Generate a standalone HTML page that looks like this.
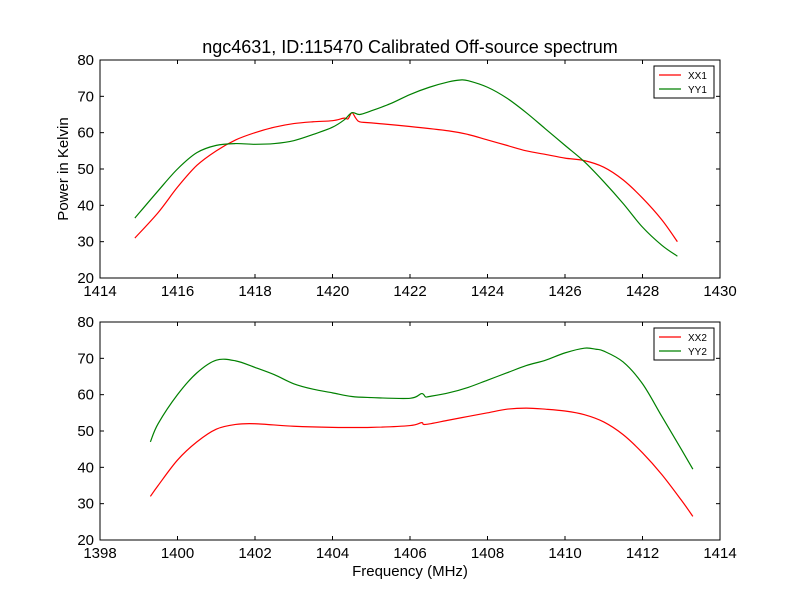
<!DOCTYPE html>
<html><head><meta charset="utf-8"><style>
body{margin:0;background:#fff;}
svg{display:block;font-family:"Liberation Sans","DejaVu Sans",sans-serif;}
</style></head><body>
<svg id="c" width="800" height="600" viewBox="0 0 800 600">
<rect width="800" height="600" fill="#fff"/>
<text x="410" y="53" font-size="18" text-anchor="middle">ngc4631, ID:115470 Calibrated Off-source spectrum</text>
<text transform="translate(68,169) rotate(-90)" font-size="15" text-anchor="middle">Power in Kelvin</text>
<text x="410" y="576" font-size="15" text-anchor="middle">Frequency (MHz)</text>
</svg>
<script>
const topFreqXX=[1414.9,1415.5,1416,1416.5,1417,1417.5,1418,1418.5,1419,1419.5,1420,1420.3,1420.4,1420.5,1420.6,1420.7,1421,1422,1423,1423.5,1424,1424.5,1425,1425.5,1426,1426.5,1427,1427.5,1428,1428.5,1428.9];
const topXX1=[31,38,45,51,55,58,60,61.5,62.5,63,63.3,64,63.8,65.5,64,63,62.7,61.7,60.5,59.5,58,56.5,55,54,53,52.3,50.5,47,42,36,30];
const topFreqYY=[1414.9,1415.5,1416,1416.5,1417,1417.5,1418,1418.5,1419,1419.5,1420,1420.3,1420.5,1420.7,1421,1421.5,1422,1422.5,1423,1423.3,1423.5,1424,1424.5,1425,1425.5,1426,1426.5,1427,1427.5,1428,1428.5,1428.9];
const topYY1=[36.5,44,50,54.5,56.5,57,56.8,57,57.8,59.5,61.5,63.5,65.5,65,66,68,70.5,72.5,74,74.5,74.3,72.5,69.5,65.5,61,56.5,52,46.5,40.5,34,29,26];
const botFreqXX=[1399.3,1399.5,1400,1400.5,1401,1401.5,1402,1403,1404,1405,1406,1406.3,1406.4,1407,1407.5,1408,1408.5,1409,1409.5,1410,1410.5,1411,1411.5,1412,1412.5,1413,1413.3];
const botXX2=[32,35,42,47,50.5,51.8,52,51.3,51,51,51.5,52.3,51.8,53,54,55,56,56.3,56,55.5,54.5,52.5,49,44,38,31,26.5];
const botFreqYY=[1399.3,1399.5,1400,1400.5,1401,1401.5,1402,1402.5,1403,1403.5,1404,1404.5,1405,1406,1406.3,1406.4,1406.5,1407,1407.5,1408,1408.5,1409,1409.5,1410,1410.5,1410.8,1411,1411.5,1412,1412.5,1413,1413.3];
const botYY2=[47,52,60,66,69.5,69.3,67.5,65.5,63,61.5,60.5,59.5,59.2,59,60.3,59.4,59.5,60.5,62,64,66,68,69.5,71.5,72.8,72.5,72,69,63,54,45,39.5];
const topXTicks=[1414,1416,1418,1420,1422,1424,1426,1428,1430];
const botXTicks=[1398,1400,1402,1404,1406,1408,1410,1412,1414];
const yTicks=[20,30,40,50,60,70,80];

const svg=document.getElementById('c');
const NS='http://www.w3.org/2000/svg';
function mk(t,a,p){const e=document.createElementNS(NS,t);for(const k in a)e.setAttribute(k,a[k]);(p||svg).appendChild(e);return e;}
function smoothPath(pts){
  let d='M'+pts[0][0]+','+pts[0][1];
  for(let i=0;i<pts.length-1;i++){
    const p0=pts[Math.max(i-1,0)],p1=pts[i],p2=pts[i+1],p3=pts[Math.min(i+2,pts.length-1)];
    const t=1/6;
    const c1x=p1[0]+(p2[0]-p0[0])*t,c1y=p1[1]+(p2[1]-p0[1])*t;
    const c2x=p2[0]-(p3[0]-p1[0])*t,c2y=p2[1]-(p3[1]-p1[1])*t;
    d+=' C'+c1x+','+c1y+' '+c2x+','+c2y+' '+p2[0]+','+p2[1];
  }
  return d;
}
function panel(name,y0,y1,xmin,xmax,xt,series,labels){
  const x0=100,x1=720;
  const sx=v=>x0+(v-xmin)/(xmax-xmin)*(x1-x0);
  const sy=v=>y1-(v-20)/60*(y1-y0);
  const g=mk('g',{});
  
  
  series.forEach((s,i)=>{
    const pts=s.x.map((v,j)=>[sx(v),sy(s.y[j])]);
    const p=mk('path',{d:smoothPath(pts),fill:'none',stroke:s.c,'stroke-width':1.2},g);
    
    
  });
  mk('rect',{x:x0,y:y0,width:x1-x0,height:y1-y0,fill:'none',stroke:'#000','stroke-width':1},g);
  xt.forEach(v=>{const x=sx(v);
    mk('line',{x1:x,x2:x,y1:y1,y2:y1-4,stroke:'#000'},g);
    mk('line',{x1:x,x2:x,y1:y0,y2:y0+4,stroke:'#000'},g);
    const t=mk('text',{x:x,y:y1+18,'font-size':15,'text-anchor':'middle'},g);t.textContent=v;
    
    
  });
  yTicks.forEach(v=>{const y=sy(v);
    mk('line',{x1:x0,x2:x0+4,y1:y,y2:y,stroke:'#000'},g);
    mk('line',{x1:x1,x2:x1-4,y1:y,y2:y,stroke:'#000'},g);
    const t=mk('text',{x:x0-6,y:y+5,'font-size':15,'text-anchor':'end'},g);t.textContent=v;
    
    
  });
  const lg=mk('g',{},g);
  
  
  mk('rect',{x:654,y:y0+6,width:60,height:32,fill:'#fff',stroke:'#000'},lg);
  labels.forEach((l,i)=>{const yy=y0+15+i*14;
    mk('line',{x1:659,x2:681,y1:yy,y2:yy,stroke:series[i].c,'stroke-width':1.2},lg);
    const t=mk('text',{x:688,y:yy+4,'font-size':10},lg);t.textContent=l;
    
    
  });
}
panel('top-panel',60,278,1414,1430,topXTicks,[{x:topFreqXX,y:topXX1,c:'#ff0000'},{x:topFreqYY,y:topYY1,c:'#008000'}],['XX1','YY1']);
panel('bottom-panel',322,540,1398,1414,botXTicks,[{x:botFreqXX,y:botXX2,c:'#ff0000'},{x:botFreqYY,y:botYY2,c:'#008000'}],['XX2','YY2']);
</script>
</body></html>
